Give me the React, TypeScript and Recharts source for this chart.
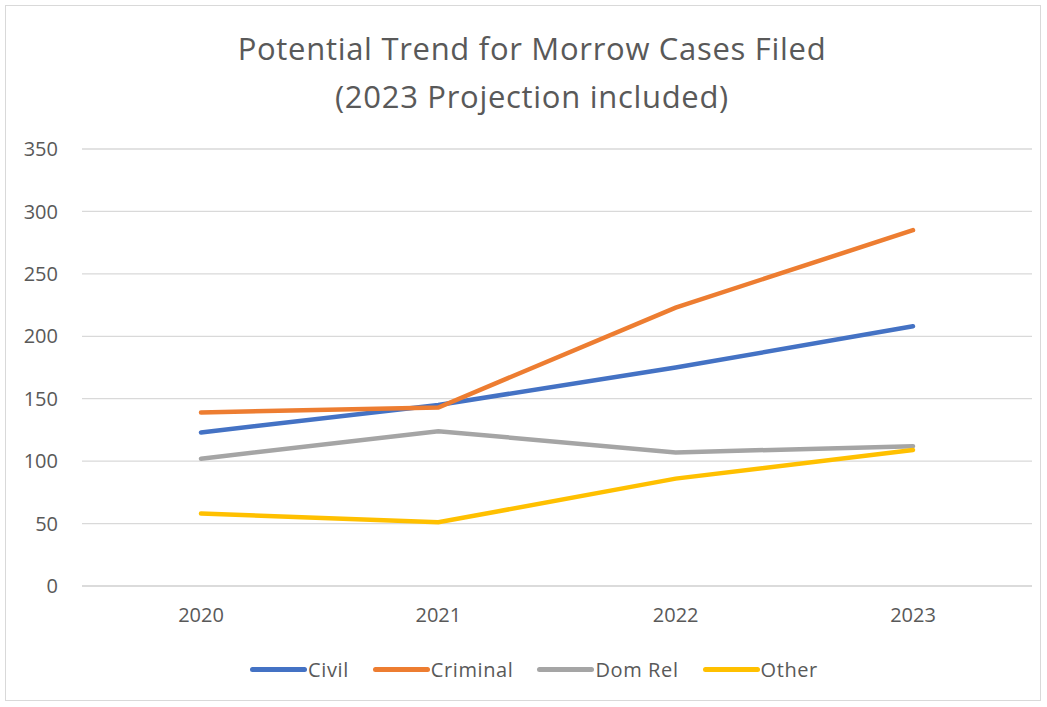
import React from 'react';
import { LineChart, Line, XAxis, YAxis, CartesianGrid, Legend } from 'recharts';

const years = ['2020', '2021', '2022', '2023'];
const civil = [123, 145, 175, 208];
const criminal = [139, 143, 223, 285];
const domRel = [102, 124, 107, 112];
const other = [58, 51, 86, 109];
const yTicks = [0, 50, 100, 150, 200, 250, 300, 350];

const FONT = "'Open Sans', sans-serif";
const TEXT = '#595959';

const series = [
  { key: 'Civil', values: civil, color: '#4472C4' },
  { key: 'Criminal', values: criminal, color: '#ED7D31' },
  { key: 'Dom Rel', values: domRel, color: '#A5A5A5' },
  { key: 'Other', values: other, color: '#FFC000' },
];

const data = years.map((year, i) => {
  const row: Record<string, string | number> = { year };
  series.forEach((s) => {
    row[s.key] = s.values[i];
  });
  return row;
});

function LegendContent() {
  return (
    <div style={{ display: 'flex', justifyContent: 'center', alignItems: 'center', height: 24, paddingLeft: 36, fontFamily: FONT, fontSize: 20, letterSpacing: 0.6, color: TEXT }}>
      {series.map((s) => (
        <div key={s.key} style={{ display: 'flex', alignItems: 'center', margin: '0 12px' }}>
          <span style={{ display: 'inline-block', width: 57, height: 5, borderRadius: 3, background: s.color, marginRight: 1 }} />
          <span>{s.key}</span>
        </div>
      ))}
    </div>
  );
}

export default function App() {
  return (
    <div style={{ position: 'absolute', left: 0, top: 0, width: 1047, height: 707, background: '#fff', overflow: 'hidden' }}>
      <div style={{ position: 'absolute', left: 5, top: 5, width: 1036, height: 696, border: '1px solid #d9d9d9', boxSizing: 'border-box' }} />
      <div style={{ position: 'absolute', left: 0, top: 24, width: 1064, textAlign: 'center', fontFamily: FONT, fontSize: 31, letterSpacing: 0.7, lineHeight: '48px', color: TEXT }}>
        <div>Potential Trend for Morrow Cases Filed</div>
        <div>(2023 Projection included)</div>
      </div>
      <div style={{ position: 'absolute', left: 0, top: 0 }}>
        <LineChart width={1047} height={707} data={data} margin={{ top: 149, right: 15, bottom: 57, left: 0 }}>
          <CartesianGrid vertical={false} stroke="#d9d9d9" strokeWidth={1.3} />
          <XAxis
            dataKey="year"
            height={40}
            padding={{ left: 119, right: 119 }}
            axisLine={{ stroke: '#d9d9d9', strokeWidth: 1.3 }}
            tickLine={false}
            tickMargin={16}
            tick={{ fill: TEXT, fontSize: 20, fontFamily: FONT }}
          />
          <YAxis
            width={82}
            domain={[0, 350]}
            ticks={yTicks}
            axisLine={false}
            tickLine={false}
            tickMargin={18}
            tick={{ fill: TEXT, fontSize: 20, fontFamily: FONT }}
          />
          <Legend verticalAlign="bottom" height={24} wrapperStyle={{ bottom: 26 }} content={() => <LegendContent />} />
          {series.map((s) => (
            <Line
              key={s.key}
              type="linear"
              dataKey={s.key}
              stroke={s.color}
              strokeWidth={4.5}
              strokeLinecap="round"
              dot={false}
              activeDot={false}
              isAnimationActive={false}
            />
          ))}
        </LineChart>
      </div>
    </div>
  );
}
